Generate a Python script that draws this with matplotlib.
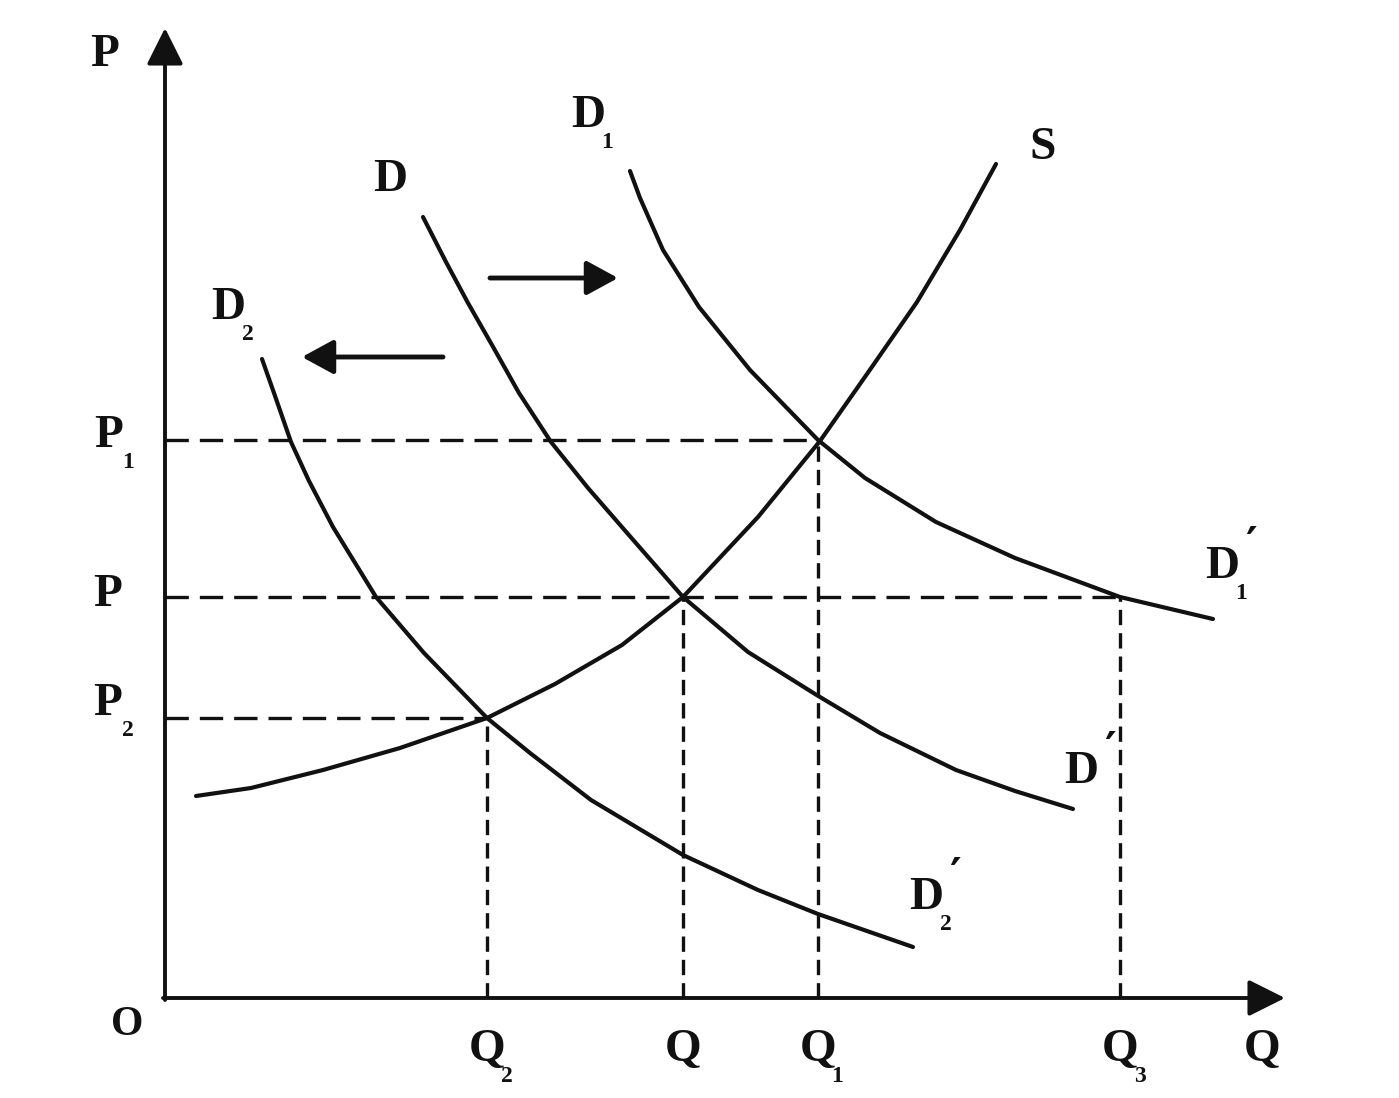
import matplotlib.pyplot as plt

# price levels (P axis) and quantities (Q axis)
p1_level = 5.58
p_level = 4.01
p2_level = 2.80
q2_level = 3.22
q_level = 5.18
q1_level = 6.53
q3_level = 9.55

# supply curve S
s_q = [0.31, 0.86, 1.58, 2.35, 3.22, 3.90, 4.57, 5.18, 5.93, 6.55, 7.02, 7.52, 7.95, 8.31]
s_p = [2.02, 2.10, 2.28, 2.50, 2.80, 3.14, 3.53, 4.01, 4.81, 5.57, 6.24, 6.96, 7.68, 8.34]

# original demand D -> D'
d_q = [2.58, 2.81, 3.03, 3.27, 3.54, 3.86, 4.23, 4.63, 5.18, 5.83, 6.50, 7.15, 7.91, 8.50, 9.08]
d_p = [7.81, 7.36, 6.95, 6.53, 6.05, 5.56, 5.10, 4.64, 4.01, 3.46, 3.04, 2.65, 2.28, 2.07, 1.89]

# increased demand D1 -> D1'
d1_q = [4.65, 4.75, 4.98, 5.34, 5.85, 6.53, 7.00, 7.71, 8.50, 9.55, 10.48]
d1_p = [8.27, 8.00, 7.48, 6.91, 6.28, 5.58, 5.20, 4.76, 4.40, 4.01, 3.79]

# decreased demand D2 -> D2'
d2_q = [0.97, 1.09, 1.26, 1.44, 1.68, 2.11, 2.59, 3.22, 3.65, 4.26, 5.18, 5.93, 6.53, 7.48]
d2_p = [6.39, 6.05, 5.56, 5.17, 4.71, 4.01, 3.45, 2.80, 2.45, 1.98, 1.43, 1.08, 0.84, 0.51]

# guide lines: (price, quantity reached) and (quantity, price reached)
h_guides = [(p1_level, q1_level), (p_level, q3_level), (p2_level, q2_level)]
v_guides = [(q2_level, p2_level), (q_level, p_level), (q1_level, p1_level), (q3_level, p_level)]

FONT = ["Liberation Serif", "DejaVu Serif"]
INK = "#111111"


def label(ax, x, y, main, sub=None, prime=False, size=34):
    ax.text(x, y, main, ha="center", va="center", fontsize=size,
            fontweight="bold", family=FONT, color=INK)
    if sub:
        ax.annotate(sub, xy=(x, y), xytext=(14, -19), textcoords="offset points",
                    ha="center", va="center", fontsize=17, fontweight="bold",
                    family=FONT, color=INK)
    if prime:
        ax.annotate("\u2032", xy=(x, y), xytext=(21, 15), textcoords="offset points",
                    ha="center", va="center", fontsize=32, fontweight="bold",
                    family=["DejaVu Serif"], color=INK)


def main():
    fig = plt.figure(figsize=(13.99, 10.98), dpi=100)
    ax = fig.add_axes([0, 0, 1, 1])
    ax.set_xlim(-1.65, 12.34)
    ax.set_ylim(-1.00, 9.98)
    ax.axis("off")

    # axes with arrow heads
    axis_arrow = dict(arrowstyle="-|>,head_length=0.5,head_width=0.25", lw=2.8,
                      color=INK, mutation_scale=45, shrinkA=0, shrinkB=0)
    ax.annotate("", xy=(0, 9.70), xytext=(0, -0.02), arrowprops=axis_arrow)
    ax.annotate("", xy=(11.20, 0), xytext=(-0.02, 0), arrowprops=axis_arrow)

    # dashed guides
    for p, q in h_guides:
        ax.plot([0, q], [p, p], color=INK, lw=2.4, dashes=(7, 3.3))
    for q, p in v_guides:
        ax.plot([q, q], [0, p], color=INK, lw=2.4, dashes=(4.6, 2.4))

    # curves
    for qs, ps in [(s_q, s_p), (d_q, d_p), (d1_q, d1_p), (d2_q, d2_p)]:
        ax.plot(qs, ps, color=INK, lw=3.0, solid_capstyle="round",
                solid_joinstyle="round")

    # shift arrows
    shift_arrow = dict(arrowstyle="-|>,head_length=0.55,head_width=0.3", lw=3.5,
                       color=INK, mutation_scale=35, shrinkA=0, shrinkB=0)
    ax.annotate("", xy=(4.53, 7.20), xytext=(3.25, 7.20), arrowprops=shift_arrow)
    ax.annotate("", xy=(1.37, 6.41), xytext=(2.78, 6.41), arrowprops=shift_arrow)

    # curve labels
    label(ax, 4.23, 8.82, "D", "1")
    label(ax, 8.78, 8.50, "S")
    label(ax, 2.25, 8.18, "D")
    label(ax, 0.63, 6.90, "D", "2")
    label(ax, 10.57, 4.31, "D", "1", prime=True)
    label(ax, 9.16, 2.26, "D", prime=True)
    label(ax, 7.61, 1.00, "D", "2", prime=True)

    # axis labels
    label(ax, -0.60, 9.43, "P")
    label(ax, -0.56, 5.62, "P", "1")
    label(ax, -0.57, 4.03, "P")
    label(ax, -0.57, 2.94, "P", "2")
    label(ax, -0.38, -0.27, "O", size=30)
    label(ax, q2_level, -0.52, "Q", "2")
    label(ax, q_level, -0.52, "Q")
    label(ax, q1_level, -0.52, "Q", "1")
    label(ax, q3_level, -0.52, "Q", "3")
    label(ax, 10.97, -0.52, "Q")

    fig.savefig("out.png", dpi=100)


if __name__ == "__main__":
    main()
